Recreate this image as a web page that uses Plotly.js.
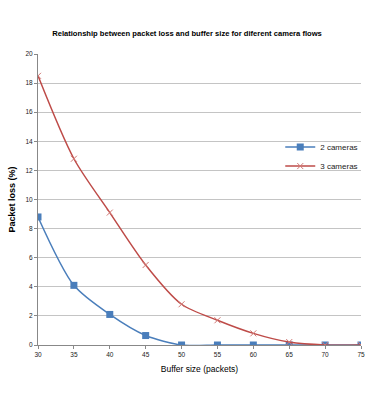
<!DOCTYPE html>
<html>
<head>
<meta charset="utf-8">
<script src="https://cdn.plot.ly/plotly-3.0.1.min.js"></script>
<style>
  body { margin: 0; background: #fff; }
  #chart { width: 374px; height: 416px; }
</style>
</head>
<body>
<div id="chart"></div>
<script>
// buffer sizes on the x axis
var bufferSizes = [30, 35, 40, 45, 50, 55, 60, 65, 70, 75];
// packet loss values
var loss2Cameras = [8.8, 4.1, 2.1, 0.65, 0, 0, 0, 0, 0, 0];
var loss3Cameras = [18.5, 12.8, 9.1, 5.5, 2.8, 1.7, 0.8, 0.2, 0, 0];

var fontMain = 'Liberation Sans Narrow, Liberation Sans, Arial, sans-serif';

var trace2 = {
    x: bufferSizes,
    y: loss2Cameras,
    type: 'scatter',
    mode: 'lines+markers',
    name: '2 cameras',
    line: { color: '#4a7ebb', width: 1.5, shape: 'spline', smoothing: 0.8 },
    marker: { symbol: 'square', size: 7, color: '#4a7ebb' }
};

var trace3 = {
    x: bufferSizes,
    y: loss3Cameras,
    type: 'scatter',
    mode: 'lines+markers',
    name: '3 cameras',
    line: { color: '#be4b48', width: 1.5, shape: 'spline', smoothing: 0.8 },
    marker: { symbol: 'x-thin', size: 6, color: '#be4b48', line: { color: '#d07874', width: 1 } }
};

var layout = {
    width: 374,
    height: 416,
    margin: { l: 38, r: 11, t: 54, b: 71 },
    paper_bgcolor: '#fff',
    plot_bgcolor: '#fff',
    font: { family: fontMain, size: 6.5, color: '#222' },
    title: {
        text: 'Relationship between packet loss and buffer size for diferent camera flows',
        font: { family: fontMain, size: 7.6, color: '#000', weight: 'bold' },
        x: 0.5, xanchor: 'center', y: 0.921, yanchor: 'middle'
    },
    xaxis: {
        range: [30, 75],
        tickvals: bufferSizes,
        ticks: 'outside', ticklen: 3, tickcolor: '#888',
        showline: true, linecolor: '#888', linewidth: 1,
        showgrid: false, zeroline: false,
        tickfont: { size: 6.5, color: '#222' },
        title: { text: 'Buffer size (packets)', font: { family: fontMain, size: 8.5, color: '#000' }, standoff: 9 }
    },
    yaxis: {
        range: [0, 20],
        dtick: 2,
        ticks: 'outside', ticklen: 3, tickcolor: '#888',
        showline: true, linecolor: '#888', linewidth: 1,
        gridcolor: '#c4c4c4', gridwidth: 1, zeroline: false,
        tickfont: { size: 6.5, color: '#222' },
        title: { text: 'Packet loss (%)', font: { family: 'Liberation Sans, Arial, sans-serif', size: 9, color: '#000', weight: 'bold' }, standoff: 8 }
    },
    showlegend: true,
    legend: {
        x: 0.75, y: 0.73, xanchor: 'left', yanchor: 'top',
        bgcolor: 'rgba(255,255,255,0)',
        font: { family: fontMain, size: 8, color: '#222' },
        itemwidth: 30
    }
};

Plotly.newPlot('chart', [trace2, trace3], layout, { displayModeBar: false, staticPlot: true });
</script>
</body>
</html>
